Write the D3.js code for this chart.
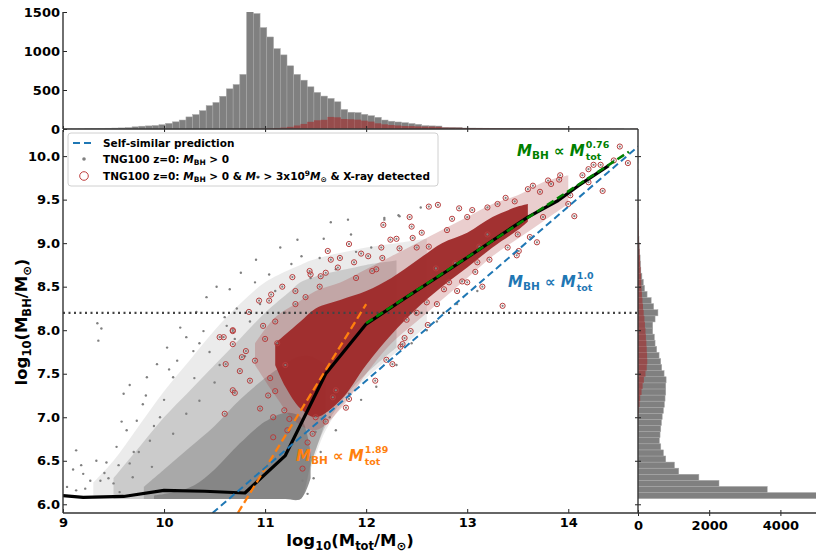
<!DOCTYPE html>
<html>
<head>
<meta charset="utf-8">
<script src="https://cdn.jsdelivr.net/npm/d3@7"></script>
<style>
  body { margin: 0; background: #fff; }
  svg text { font-family: "DejaVu Sans", sans-serif; font-weight: bold; }
</style>
</head>
<body>
<div id="chart"></div>
<script>
//// data

// top histogram: log10(Mtot) in bins of 1/15 dex starting at 8.95
var topBinStart = 8.95, topBinWidth = 1 / 15;
var topAll = [1,2,2,3,4,6,8,10,12,14,
  18,28,36,40,45,55,72,92,115,155,
  185,235,300,340,420,515,570,700,1700,1480,
  1300,1180,1030,950,810,700,626,541,469,422,
  392,349,250,215,210,188,170,150,115,100,
  90,81,70,60,43,40,38,22,21,20,
  13,12,11,10,9,8,7,6,6,5,
  5,4,4,3,3,3,2,2,2,2,
  1,1,1,1,0,1,0];
var topXray = [0,0,0,0,0,0,0,0,0,0,
  0,0,0,0,0,0,0,0,0,0,
  0,0,0,0,0,1,1,2,2,3,
  3,6,10,18,28,45,65,92,112,118,
  155,150,128,125,120,107,95,73,60,51,
  45,38,37,33,30,30,28,18,17,16,
  11,10,10,9,8,7,6,6,5,4,
  4,4,3,3,3,2,2,2,2,2,
  1,1,1,1,0,1,0];

// side histogram: log10(MBH) in bins of 0.07 dex starting at 6.065
var sideBinStart = 6.065, sideBinWidth = 0.07;
var sideAll = [5400,3630,2275,1710,1145,1025,780,715,640,600,
  620,640,660,680,715,742,760,780,780,790,
  733,667,639,592,526,480,460,414,414,480,
  560,440,370,255,185,150,110,80,70,60,
  48,38,28,20,14,10,7,5,3,2,
  2,1,1,1,0,1,0,0,0,0,0];
var sideXray = [0,0,0,0,0,0,0,0,0,0,
  1,2,4,8,20,45,62,100,130,165,
  210,245,260,255,245,235,222,210,195,180,
  160,140,125,110,100,92,85,75,62,55,
  45,35,26,19,13,9,6,4,3,2,
  2,1,0,0,0,0,0,0,0,0,0];

// running median
var medX = [9.0, 9.2, 9.6, 10.0, 10.4, 10.8, 11.2, 11.6, 12.0, 12.4, 12.8, 13.2, 13.6, 13.9, 14.1, 14.4];
var medY = [6.10, 6.08, 6.09, 6.16, 6.15, 6.13, 6.56, 7.50, 8.07, 8.38, 8.68, 8.99, 9.30, 9.49, 9.66, 9.89];

// power-law guides (end points)
var selfSimX = [10.48, 14.69], selfSimY = [5.90, 10.11];
var fitHiX = [12.0, 14.6], fitHiY = [8.08, 10.05];
var fitLoX = [10.73, 12.0], fitLoY = [5.90, 8.30];
var cutY = 8.2;

// density envelopes of the all-galaxy cloud (x, lower, upper), sparse to dense
var grayOuterX  = [9.3, 9.5, 9.75, 10.0, 10.25, 10.5, 10.75, 11.0, 11.25, 11.35, 11.45, 11.6, 11.8, 12.0, 12.3, 12.6];
var grayOuterLo = [6.06, 6.06, 6.06, 6.06, 6.06, 6.06, 6.06, 6.06, 6.06, 6.06, 6.4, 6.85, 7.2, 7.45, 7.75, 8.05];
var grayOuterHi = [6.25, 6.5, 6.9, 7.3, 7.65, 8.0, 8.3, 8.55, 8.7, 8.75, 8.8, 8.85, 8.9, 8.95, 9.0, 9.05];
var grayHaloX  = [9.5, 9.75, 10.0, 10.25, 10.5, 10.75, 11.0, 11.25, 11.35, 11.45, 11.6, 11.8, 12.0, 12.3];
var grayHaloLo = [6.06, 6.06, 6.06, 6.06, 6.06, 6.06, 6.06, 6.06, 6.06, 6.45, 6.9, 7.25, 7.5, 7.8];
var grayHaloHi = [6.3, 6.65, 7.0, 7.3, 7.6, 7.9, 8.2, 8.45, 8.55, 8.6, 8.65, 8.7, 8.75, 8.8];
var grayMidX  = [9.8, 10.0, 10.25, 10.5, 10.75, 11.0, 11.25, 11.35, 11.45, 11.6];
var grayMidLo = [6.06, 6.06, 6.06, 6.06, 6.06, 6.06, 6.06, 6.06, 6.45, 6.95];
var grayMidHi = [6.2, 6.4, 6.65, 6.9, 7.2, 7.45, 7.65, 7.7, 7.7, 7.6];
var grayCoreX  = [9.9, 10.1, 10.3, 10.5, 10.75, 11.0, 11.2, 11.35, 11.45];
var grayCoreLo = [6.06, 6.06, 6.06, 6.06, 6.06, 6.06, 6.06, 6.06, 6.3];
var grayCoreHi = [6.1, 6.14, 6.22, 6.4, 6.7, 6.95, 7.05, 7.0, 6.6];

// density envelopes of the X-ray detected cloud
var redMidX  = [10.9, 11.1, 11.3, 11.5, 11.75, 12.0, 12.25, 12.5, 12.75, 13.0, 13.25, 13.5, 13.75, 14.0];
var redMidLo = [7.6, 7.25, 6.95, 6.85, 7.1, 7.5, 7.85, 8.1, 8.35, 8.6, 8.85, 9.05, 9.25, 9.45];
var redMidHi = [7.85, 8.15, 8.3, 8.45, 8.55, 8.7, 8.85, 9.0, 9.15, 9.3, 9.45, 9.55, 9.7, 9.78];
var redCoreX  = [11.1, 11.2, 11.35, 11.5, 11.75, 12.0, 12.25, 12.5, 12.75, 13.0, 13.25, 13.5, 13.6];
var redCoreLo = [7.6, 7.35, 7.1, 7.0, 7.2, 7.6, 7.95, 8.25, 8.5, 8.72, 8.95, 9.15, 9.25];
var redCoreHi = [7.85, 7.95, 8.1, 8.25, 8.35, 8.45, 8.6, 8.8, 9.0, 9.12, 9.3, 9.42, 9.45];

// individual sparse galaxies
var grayPtX = [9.34,9.38,9.35,11.65,11.82,12.18,12.32,11.32,10.91,10.76,11.04,11.36,11.26,11.54,10.65,10.32,10.16,10.03,9.93,9.66,10.42,10.52,10.22,10.39,10.13,10.29,9.83,10.09,
  9.13,9.27,9.33,9.13,9.43,9.53,9.63,9.73,9.66,9.79,9.86,9.96,9.6,9.37,9.5,9.69,9.88,9.04,10.09,10.22,10.35,
  11.5,11.64,11.83,11.44,11.37,12.54,12.33,12.18,
  10.55,10.7,10.85,10.6,10.95,11.1,11.2,10.45,10.3,10.0,9.9,9.75,9.55,9.45,9.2,9.1,10.5,10.8,11.45,11.7,12.05,11.9,12.6,12.45,12.7,12.3,12.1,11.95,11.7,11.55,11.48,11.42,12.9,13.1,
  10.62,10.35,10.05,9.82,9.58,10.9,10.72,11.15,11.58,11.85,9.22,9.41,9.56,9.18,9.7];
var grayPtY = [8.08,8.02,7.88,9.24,9.27,9.27,9.32,9.04,8.81,8.66,8.64,8.85,8.76,8.83,8.47,8.21,8.03,7.8,7.61,7.37,8.38,8.5,7.92,7.99,7.65,7.76,7.46,7.46,
  6.62,6.27,6.5,6.16,6.48,6.66,6.85,6.96,6.47,7.15,6.73,7.0,7.27,6.27,6.24,6.31,6.43,6.2,6.81,7.04,7.19,
  6.83,7.0,7.27,6.54,6.27,9.41,9.31,9.29,
  7.6,7.9,8.1,8.15,8.3,8.45,8.2,7.75,7.45,7.2,6.9,6.6,6.45,6.3,6.35,6.4,7.4,7.7,8.6,8.7,8.95,8.9,8.0,7.85,8.1,7.6,7.35,7.2,6.85,6.6,6.3,6.12,8.3,8.45,
  8.05,7.85,7.55,7.25,6.95,8.55,8.25,8.95,9.05,9.1,6.18,6.36,6.14,6.45,6.6];
var redPtX = [12.17,12.43,11.83,11.62,11.95,11.65,11.74,11.45,11.04,10.94,10.84,10.68,10.55,10.68,10.81,10.61,10.75,11.17,11.27,11.54,12.06,12.16,12.33,12.46,
  14.51,14.59,14.34,14.32,14.14,13.91,13.83,14.06,13.47,13.72,13.2,12.92,12.71,12.62,12.45,12.24,13.35,13.15,13.62,13.69,13.49,13.51,13.08,13.22,12.95,12.77,12.61,12.38,12.34,12.2,12.69,12.62,12.88,13.12,14.02,
  11.37,11.42,11.24,11.19,11.03,10.85,10.68,10.77,10.59,10.68,11.06,11.44,11.6,11.7,11.8,11.22,10.6,11.08,
  10.7,11.08,11.47,11.83,11.67,12.09,12.26,12.36,12.44,
  11.0,11.1,11.3,11.9,12.1,12.5,12.8,13.0,13.3,13.6,13.8,14.2,14.45,14.0,13.4,13.0,12.7,12.5,12.9,13.5,13.75,14.2,13.2,11.2,11.1,10.95,11.5,11.6,
  10.9,10.98,11.12,11.05,11.3,11.4,11.55,11.72,11.88,12.02,12.15,12.3,12.55,12.85,13.05,13.38,13.65,13.92,14.25,12.4,12.6,12.82,13.1];
var redPtY = [9.21,9.30,8.99,8.91,8.88,8.81,8.83,8.64,8.34,8.34,8.21,8.0,7.92,7.84,7.76,7.61,7.53,8.5,8.61,8.5,8.68,8.83,8.94,9.06,
  10.11,9.92,9.6,9.9,9.78,9.73,9.68,9.31,9.48,9.59,9.41,9.4,9.44,9.42,9.19,9.04,8.28,8.5,9.07,9.01,8.86,8.91,8.67,8.81,8.56,8.47,8.06,7.91,7.81,7.66,8.71,8.96,8.77,8.96,9.55,
  6.41,6.71,6.98,7.08,7.25,7.42,7.31,7.69,7.92,7.99,8.41,8.68,8.66,7.31,7.11,6.85,7.04,6.77,
  7.28,7.0,6.81,7.21,7.23,7.42,7.61,7.84,7.99,
  7.9,8.1,8.3,8.6,8.7,8.95,9.15,9.3,9.45,9.62,9.72,9.85,9.95,9.45,8.95,8.55,8.3,8.2,8.45,9.1,9.3,9.7,9.1,7.6,7.3,7.1,7.0,6.95,
  7.65,8.05,7.85,7.45,8.45,8.38,8.62,8.72,8.78,8.85,8.95,9.05,9.12,9.28,9.38,9.52,9.66,9.78,9.9,8.12,8.32,8.55,8.78];

var yTicks = [6.0, 6.5, 7.0, 7.5, 8.0, 8.5, 9.0, 9.5, 10.0];
var xTicks = [9, 10, 11, 12, 13, 14];
var topTicks = [0, 500, 1000, 1500];
var sideTicks = [0, 2000, 4000];

//// chart
var W = 822, H = 556;
var main = {left: 63, right: 638, top: 130, bottom: 513};
var topPanel = {top: 12, bottom: 129};
var sidePanel = {left: 638, right: 816};

var grey = "#808080", brick = "#a52a2a";

var svg = d3.select("#chart").append("svg")
  .attr("width", W).attr("height", H);

var x = d3.scaleLinear().domain([9, 14.69]).range([main.left, main.right]);
var y = d3.scaleLinear().domain([5.9, 10.3]).range([main.bottom, main.top]);
var yTop = d3.scaleLinear().domain([0, 1500]).range([topPanel.bottom, topPanel.top]);
var xSide = d3.scaleLinear().domain([0, 5000]).range([sidePanel.left, sidePanel.right]);

var defs = svg.append("defs");
defs.append("clipPath").attr("id", "clipMain").append("rect")
  .attr("x", main.left).attr("y", main.top)
  .attr("width", main.right - main.left).attr("height", main.bottom - main.top);
defs.append("clipPath").attr("id", "clipTop").append("rect")
  .attr("x", main.left).attr("y", topPanel.top)
  .attr("width", main.right - main.left).attr("height", topPanel.bottom - topPanel.top);
defs.append("clipPath").attr("id", "clipSide").append("rect")
  .attr("x", sidePanel.left).attr("y", main.top)
  .attr("width", sidePanel.right - sidePanel.left).attr("height", main.bottom - main.top);

//// top histogram
var gTop = svg.append("g").attr("clip-path", "url(#clipTop)");
function topBars(counts, fill, op, stroke) {
  gTop.append("g").selectAll("rect")
    .data(counts)
    .enter().append("rect")
    .attr("x", function(d, i) { return x(topBinStart + i * topBinWidth); })
    .attr("width", x(topBinStart + topBinWidth) - x(topBinStart))
    .attr("y", function(d) { return yTop(Math.min(d, 1500)) - (d > 1500 ? 2 : 0); })
    .attr("height", function(d) { return yTop(0) - yTop(Math.min(d, 1500)) + (d > 1500 ? 2 : 0); })
    .attr("fill", fill).attr("fill-opacity", op)
    .attr("stroke", stroke).attr("stroke-width", 0.5);
}
topBars(topAll, grey, 1, "#a8a8a8");
topBars(topXray, brick, 0.6, "none");

//// side histogram
var gSide = svg.append("g").attr("clip-path", "url(#clipSide)");
function sideBars(counts, fill, op, stroke) {
  gSide.append("g").selectAll("rect")
    .data(counts)
    .enter().append("rect")
    .attr("x", xSide(0))
    .attr("y", function(d, i) { return y(sideBinStart + (i + 1) * sideBinWidth); })
    .attr("height", y(sideBinStart) - y(sideBinStart + sideBinWidth))
    .attr("width", function(d) { return xSide(d) - xSide(0); })
    .attr("fill", fill).attr("fill-opacity", op)
    .attr("stroke", stroke).attr("stroke-width", 0.5);
}
sideBars(sideAll, grey, 1, "#a8a8a8");
sideBars(sideXray, brick, 0.6, "none");

//// main scatter
var gMain = svg.append("g").attr("clip-path", "url(#clipMain)");

function band(X, lo, hi, fill, op) {
  var pts = X.map(function(v, i) { return [v, lo[i], hi[i]]; });
  var area = d3.area()
    .x(function(d) { return x(d[0]); })
    .y0(function(d) { return y(d[1]); })
    .y1(function(d) { return y(d[2]); })
    .curve(d3.curveCatmullRom);
  gMain.append("path").datum(pts)
    .attr("d", area)
    .attr("fill", fill).attr("fill-opacity", op);
}
band(grayOuterX, grayOuterLo, grayOuterHi, grey, 0.16);
band(grayHaloX, grayHaloLo, grayHaloHi, grey, 0.3);
band(grayMidX, grayMidLo, grayMidHi, grey, 0.45);
band(grayCoreX, grayCoreLo, grayCoreHi, grey, 0.85);

gMain.append("g").selectAll("circle")
  .data(d3.range(grayPtX.length))
  .enter().append("circle")
  .attr("cx", function(i) { return x(grayPtX[i]); })
  .attr("cy", function(i) { return y(grayPtY[i]); })
  .attr("r", 1.2)
  .attr("fill", grey);

band(redMidX, redMidLo, redMidHi, "#a83232", 0.24);
band(redCoreX, redCoreLo, redCoreHi, "#9e2828", 0.95);

var redPts = gMain.append("g").selectAll("g")
  .data(d3.range(redPtX.length))
  .enter().append("g")
  .attr("transform", function(i) { return "translate(" + x(redPtX[i]) + "," + y(redPtY[i]) + ")"; });
redPts.append("circle").attr("r", 1.1).attr("fill", grey);
redPts.append("circle").attr("r", 2.6)
  .attr("fill", "none").attr("stroke", "#b53c3c").attr("stroke-width", 1);

//// lines
var line = d3.line()
  .x(function(d) { return x(d[0]); })
  .y(function(d) { return y(d[1]); });
function pairs(X, Y) { return X.map(function(v, i) { return [v, Y[i]]; }); }

gMain.append("path")
  .datum([[9, cutY], [14.69, cutY]])
  .attr("d", line)
  .attr("fill", "none").attr("stroke", "#444")
  .attr("stroke-width", 2.2).attr("stroke-dasharray", "2,3.5");

gMain.append("path")
  .datum(pairs(medX, medY))
  .attr("d", line)
  .attr("fill", "none").attr("stroke", "black")
  .attr("stroke-width", 3.2).attr("stroke-linejoin", "round");

gMain.append("path")
  .datum(pairs(fitLoX, fitLoY))
  .attr("d", line)
  .attr("fill", "none").attr("stroke", "#ff7f0e")
  .attr("stroke-width", 2.3).attr("stroke-dasharray", "8,4");

gMain.append("path")
  .datum(pairs(selfSimX, selfSimY))
  .attr("d", line)
  .attr("fill", "none").attr("stroke", "#1f77b4")
  .attr("stroke-width", 2).attr("stroke-dasharray", "7,4");

gMain.append("path")
  .datum(pairs(fitHiX, fitHiY))
  .attr("d", line)
  .attr("fill", "none").attr("stroke", "green")
  .attr("stroke-width", 2.6).attr("stroke-dasharray", "8,4");

//// power-law labels (sub and superscript stacked after the second M)
function powLabel(px, py, color, expo) {
  var g = svg.append("g").attr("fill", color);
  var t = g.append("text").attr("x", px).attr("y", py).style("font-size", "15px");
  t.append("tspan").style("font-style", "italic").text("M");
  t.append("tspan").attr("dy", 3).style("font-size", "10.5px").text("BH");
  t.append("tspan").attr("dy", -3).text(" \u221D ");
  t.append("tspan").style("font-style", "italic").text("M");
  var w = t.node().getComputedTextLength();
  t.append("tspan").attr("x", px + w + 1).attr("y", py + 4).style("font-size", "9.5px").text("tot");
  t.append("tspan").attr("x", px + w + 1).attr("y", py - 8).style("font-size", "9.5px").text(expo);
}
powLabel(517, 156, "green", "0.76");
powLabel(508, 287, "#1f77b4", "1.0");
powLabel(296, 461, "#ff7f0e", "1.89");

//// axes
function styleAxis(g) {
  g.select(".domain").remove();
  g.selectAll("line").attr("stroke", "#222").attr("stroke-width", 1);
  g.selectAll("text").style("font-size", "13px").attr("fill", "#000");
}

svg.append("g")
  .attr("transform", "translate(" + main.left + ",0)")
  .call(d3.axisLeft(y).tickValues(yTicks).tickFormat(d3.format(".1f")).tickSize(-4).tickPadding(3))
  .call(styleAxis);

svg.append("g")
  .attr("transform", "translate(0," + main.bottom + ")")
  .call(d3.axisBottom(x).tickValues(xTicks).tickFormat(d3.format("d")).tickSize(-4).tickPadding(5))
  .call(styleAxis);

// ticks crossing the shared spines
svg.append("g")
  .attr("transform", "translate(" + main.right + ",0)")
  .call(d3.axisRight(y).tickValues(yTicks).tickFormat("").tickSizeInner(3).tickSizeOuter(0))
  .call(styleAxis)
  .selectAll("line").attr("x1", -3);

svg.append("g")
  .attr("transform", "translate(0," + topPanel.bottom + ")")
  .call(d3.axisBottom(x).tickValues(xTicks).tickFormat("").tickSizeInner(3).tickSizeOuter(0))
  .call(styleAxis)
  .selectAll("line").attr("y1", -3);

svg.append("g")
  .attr("transform", "translate(" + main.left + ",0)")
  .call(d3.axisLeft(yTop).tickValues(topTicks).tickFormat(d3.format("d")).tickSize(-4).tickPadding(3))
  .call(styleAxis);

svg.append("g")
  .attr("transform", "translate(0," + main.bottom + ")")
  .call(d3.axisBottom(xSide).tickValues(sideTicks).tickFormat(d3.format("d")).tickSize(3).tickPadding(5))
  .call(styleAxis)
  .selectAll("line").attr("y1", -3);

// spines
var spines = [
  [main.left, main.top, main.left, main.bottom],
  [main.left, main.bottom, sidePanel.right, main.bottom],
  [main.left, topPanel.top, main.left, topPanel.bottom],
  [main.left, topPanel.bottom, main.right, topPanel.bottom],
  [main.right, topPanel.bottom, main.right, main.bottom]
];
svg.append("g").selectAll("line")
  .data(spines)
  .enter().append("line")
  .attr("x1", function(d) { return d[0]; }).attr("y1", function(d) { return d[1]; })
  .attr("x2", function(d) { return d[2]; }).attr("y2", function(d) { return d[3]; })
  .attr("stroke", "#333").attr("stroke-width", 1.4);

//// axis labels
var xl = svg.append("text").attr("x", 350).attr("y", 546)
  .attr("text-anchor", "middle").style("font-size", "16.5px");
xl.append("tspan").text("log");
xl.append("tspan").attr("dy", 4).style("font-size", "11.5px").text("10");
xl.append("tspan").attr("dy", -4).text("(M");
xl.append("tspan").attr("dy", 4).style("font-size", "11.5px").text("tot");
xl.append("tspan").attr("dy", -4).text("/M");
xl.append("tspan").attr("dy", 4).style("font-size", "11.5px").text("\u2299");
xl.append("tspan").attr("dy", -4).text(")");

var yl = svg.append("text")
  .attr("transform", "translate(27,322) rotate(-90)")
  .attr("text-anchor", "middle").style("font-size", "16.5px");
yl.append("tspan").text("log");
yl.append("tspan").attr("dy", 4).style("font-size", "11.5px").text("10");
yl.append("tspan").attr("dy", -4).text("(M");
yl.append("tspan").attr("dy", 4).style("font-size", "11.5px").text("BH");
yl.append("tspan").attr("dy", -4).text("/M");
yl.append("tspan").attr("dy", 4).style("font-size", "11.5px").text("\u2299");
yl.append("tspan").attr("dy", -4).text(")");

//// legend
var lg = svg.append("g");
lg.append("rect").attr("x", 68).attr("y", 133).attr("width", 370).attr("height", 53)
  .attr("rx", 3).attr("fill", "white").attr("fill-opacity", 0.85)
  .attr("stroke", "#d0d0d0").attr("stroke-width", 1);
lg.append("line").attr("x1", 73).attr("x2", 93).attr("y1", 143).attr("y2", 143)
  .attr("stroke", "#1f77b4").attr("stroke-width", 2).attr("stroke-dasharray", "7,4");
lg.append("circle").attr("cx", 84).attr("cy", 159).attr("r", 1.8).attr("fill", grey);
lg.append("circle").attr("cx", 84).attr("cy", 176).attr("r", 4.3)
  .attr("fill", "none").attr("stroke", "#c04040").attr("stroke-width", 1);

var fs = "10.5px", fsSub = "7.5px";
lg.append("text").attr("x", 103).attr("y", 147).style("font-size", fs).text("Self-similar prediction");

var l2 = lg.append("text").attr("x", 103).attr("y", 163).style("font-size", fs);
l2.append("tspan").text("TNG100 z=0: ");
l2.append("tspan").style("font-style", "italic").text("M");
l2.append("tspan").attr("dy", 2).style("font-size", fsSub).text("BH");
l2.append("tspan").attr("dy", -2).text(" > 0");

var l3 = lg.append("text").attr("x", 103).attr("y", 180).style("font-size", fs);
l3.append("tspan").text("TNG100 z=0: ");
l3.append("tspan").style("font-style", "italic").text("M");
l3.append("tspan").attr("dy", 2).style("font-size", fsSub).text("BH");
l3.append("tspan").attr("dy", -2).text(" > 0 & ");
l3.append("tspan").style("font-style", "italic").text("M");
l3.append("tspan").attr("dy", 1).style("font-size", fsSub).text("*");
l3.append("tspan").attr("dy", -1).text(" > 3x10");
l3.append("tspan").attr("dy", -4).style("font-size", fsSub).text("9");
l3.append("tspan").attr("dy", 4).style("font-style", "italic").text("M");
l3.append("tspan").attr("dy", 2).style("font-size", fsSub).text("\u2299");
l3.append("tspan").attr("dy", -2).text(" & X-ray detected");
</script>
</body>
</html>
